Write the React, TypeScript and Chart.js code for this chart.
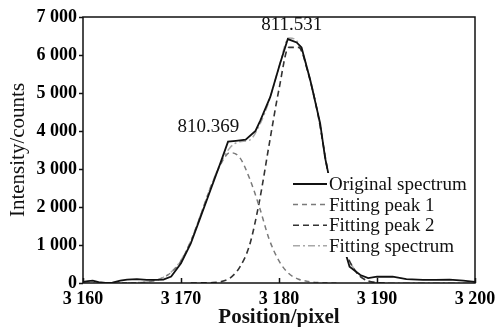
import React, { useEffect, useRef } from "react";
import { Chart, registerables } from "chart.js";

Chart.register(...registerables);

// ---- data ----
const originalX = [3160, 3160.5, 3161, 3161.6, 3162.3, 3163, 3163.8, 3164.5, 3165.5, 3166.5, 3167.5, 3168.2, 3169, 3170, 3171, 3172, 3173, 3174, 3174.8, 3175.6, 3176.6, 3177.6, 3178.1, 3179.1, 3180.1, 3180.9, 3181.8, 3182.3, 3183.2, 3184.2, 3184.7, 3185.5, 3186.2, 3186.9, 3187.2, 3188.3, 3189.1, 3190, 3191.6, 3193, 3194.7, 3196, 3197.4, 3198.8, 3200];
const originalY = [30, 50, 60, 20, 0, 10, 60, 90, 100, 80, 80, 90, 170, 520, 1040, 1740, 2440, 3140, 3720, 3740, 3770, 4000, 4280, 4890, 5770, 6420, 6330, 6200, 5330, 4200, 3300, 2300, 1400, 690, 430, 210, 130, 165, 165, 100, 80, 80, 90, 60, 30];

const peak1X = [3164, 3165, 3166, 3167, 3168, 3169, 3170, 3171, 3172, 3173, 3174, 3175, 3176, 3177, 3178, 3179, 3180, 3181, 3182, 3183, 3184, 3185, 3186];
const peak1Y = [4, 8, 15, 45, 120, 280, 580, 1100, 1780, 2500, 3100, 3430, 3300, 2750, 2000, 1150, 580, 250, 100, 40, 12, 3, 0];

const peak2X = [3171, 3172, 3173, 3174, 3175, 3176, 3177, 3178, 3179, 3180, 3181, 3182, 3183, 3184, 3185, 3186, 3187, 3188, 3189, 3190, 3191];
const peak2Y = [0, 2, 8, 30, 130, 420, 1000, 2150, 3650, 5100, 6200, 6200, 5500, 4400, 2900, 1600, 700, 250, 60, 10, 0];

const fitX = [3160, 3163, 3164, 3165, 3166, 3167, 3168, 3169, 3170, 3171, 3172, 3173, 3174, 3175, 3176, 3177, 3178, 3179, 3180, 3181, 3182, 3183, 3184, 3185, 3186, 3187, 3188, 3189, 3190, 3191, 3200];
const fitY = [0, 0, 5, 8, 18, 50, 125, 290, 600, 1110, 1790, 2510, 3130, 3560, 3720, 3760, 4150, 4800, 5680, 6450, 6300, 5540, 4410, 2900, 1600, 700, 250, 60, 10, 0, 0];

const seriesNames = ["Original spectrum", "Fitting peak 1", "Fitting peak 2", "Fitting spectrum"];

const xTickLabels = ["3 160", "3 170", "3 180", "3 190", "3 200"];
const yTickLabels = ["0", "1 000", "2 000", "3 000", "4 000", "5 000", "6 000", "7 000"];

const peakLabelText = ["810.369", "811.531"];
const peakLabelX = [3172.8, 3181.3];
const peakLabelY = [4100, 6780];

const SERIF = "'Liberation Serif', 'Times New Roman', serif";

const styles = [
  { color: "#111111", width: 1.8, dash: [] as number[] },
  { color: "#7a7a7a", width: 1.5, dash: [5, 4] },
  { color: "#333333", width: 1.6, dash: [6, 4] },
  { color: "#a8a8a8", width: 1.5, dash: [7, 3, 2, 3] },
];

const toPts = (xs: number[], ys: number[]) => xs.map((x, i) => ({ x, y: ys[i] }));

const overlayPlugin = {
  id: "overlay",
  afterDatasetsDraw(chart: any) {
    const { ctx, scales } = chart;
    ctx.save();
    // peak labels
    ctx.fillStyle = "#111";
    ctx.font = `19px ${SERIF}`;
    ctx.textAlign = "center";
    ctx.textBaseline = "middle";
    peakLabelText.forEach((t, i) => {
      ctx.fillText(t, scales.x.getPixelForValue(peakLabelX[i]), scales.y.getPixelForValue(peakLabelY[i]));
    });
    // legend
    const lx = 293, lw = 34, top = 184, step = 20.6;
    ctx.fillStyle = "#fff";
    ctx.fillRect(289, 173, 180, 84);
    ctx.font = `19px ${SERIF}`;
    ctx.textAlign = "left";
    seriesNames.forEach((name, i) => {
      const y = top + i * step;
      const s = styles[i];
      ctx.strokeStyle = s.color;
      ctx.lineWidth = s.width;
      ctx.setLineDash(s.dash);
      ctx.beginPath();
      ctx.moveTo(lx, y);
      ctx.lineTo(lx + lw, y);
      ctx.stroke();
      ctx.setLineDash([]);
      ctx.fillStyle = "#111";
      ctx.fillText(name, lx + lw + 2, y + 1);
    });
    ctx.restore();
  },
  afterDraw(chart: any) {
    const { ctx, chartArea: a, scales } = chart;
    ctx.save();
    ctx.strokeStyle = "#111";
    ctx.lineWidth = 1.5;
    ctx.setLineDash([]);
    ctx.strokeRect(a.left, a.top, a.right - a.left, a.bottom - a.top);
    ctx.beginPath();
    scales.x.ticks.forEach((t: any) => {
      const px = Math.round(scales.x.getPixelForValue(t.value)) + 0.5;
      ctx.moveTo(px, a.bottom);
      ctx.lineTo(px, a.bottom - 5);
    });
    scales.y.ticks.forEach((t: any) => {
      const py = Math.round(scales.y.getPixelForValue(t.value)) + 0.5;
      ctx.moveTo(a.left, py);
      ctx.lineTo(a.left - 4, py);
    });
    ctx.stroke();
    ctx.restore();
  },
};

export default function App() {
  const ref = useRef<HTMLCanvasElement | null>(null);
  useEffect(() => {
    document.body.style.margin = "0";
    const canvas = ref.current!;
    const sets = [
      toPts(originalX, originalY),
      toPts(peak1X, peak1Y),
      toPts(peak2X, peak2Y),
      toPts(fitX, fitY),
    ];
    const chart = new Chart(canvas, {
      type: "line",
      data: {
        datasets: sets.map((d, i) => ({
          label: seriesNames[i],
          data: d,
          borderColor: styles[i].color,
          borderWidth: styles[i].width,
          borderDash: styles[i].dash,
          pointRadius: 0,
          fill: false,
          tension: i === 0 ? 0 : 0.4,
          cubicInterpolationMode: i === 0 ? "default" : "monotone",
        })) as any,
      },
      options: {
        animation: false,
        responsive: false,
        devicePixelRatio: 1,
        layout: { padding: { top: 17, right: 27, left: 0, bottom: 0 } },
        plugins: { legend: { display: false }, tooltip: { enabled: false } },
        scales: {
          x: {
            type: "linear",
            min: 3160,
            max: 3200,
            grid: { display: false, drawTicks: false },
            border: { display: false },
            ticks: {
              stepSize: 10,
              padding: 6,
              color: "#000",
              font: { family: SERIF, size: 18, weight: "bold" },
              maxRotation: 0,
              callback: (_v: any, i: number) => xTickLabels[i],
            },
            title: {
              display: true,
              text: "Position/pixel",
              color: "#111",
              font: { family: SERIF, size: 21, weight: "bold", lineHeight: 1 },
              padding: { top: 0, bottom: -1 },
            },
            afterFit: (s: any) => { s.height = 44; },
          },
          y: {
            type: "linear",
            min: 0,
            max: 7000,
            grid: { display: false, drawTicks: false },
            border: { display: false },
            ticks: {
              stepSize: 1000,
              padding: 6,
              color: "#000",
              font: { family: SERIF, size: 18, weight: "bold" },
              callback: (_v: any, i: number) => yTickLabels[i],
            },
            title: {
              display: true,
              text: "Intensity/counts",
              color: "#111",
              font: { family: SERIF, size: 21, lineHeight: 1 },
              padding: { top: 8, bottom: 0 },
            },
            afterFit: (s: any) => { s.width = 83; },
          },
        },
      },
      plugins: [overlayPlugin],
    });
    return () => chart.destroy();
  }, []);
  return (
    <div style={{ width: 502, height: 327, background: "#fff" }}>
      <canvas ref={ref} width={502} height={327} />
    </div>
  );
}
